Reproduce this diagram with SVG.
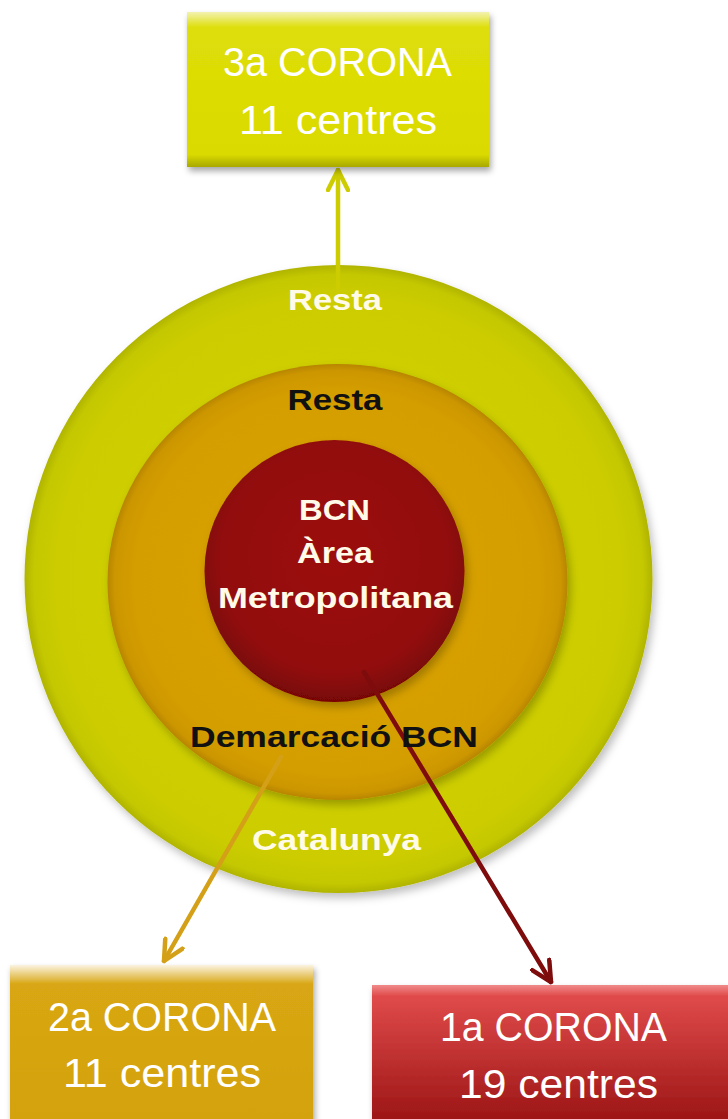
<svg xmlns="http://www.w3.org/2000/svg" width="728" height="1119" viewBox="0 0 728 1119">
<defs>
<style>
.bt{font-family:"Liberation Sans",Arial,sans-serif;font-size:41px;fill:#ffffff;text-anchor:middle}
.ct{font-family:"Liberation Sans",Arial,sans-serif;font-size:30px;font-weight:bold;text-anchor:middle}
.w{fill:#fffbe8}
.k{fill:#111111}
.ln{fill:none;stroke-width:4.5;stroke-linecap:round}
</style>
<filter id="sh" x="-10%" y="-10%" width="125%" height="125%">
<feDropShadow dx="2" dy="4" stdDeviation="3" flood-color="#000" flood-opacity="0.35"/>
</filter>
<filter id="csh" x="-10%" y="-10%" width="125%" height="125%">
<feDropShadow dx="3" dy="5" stdDeviation="4" flood-color="#000" flood-opacity="0.25"/>
</filter>
<radialGradient id="gOuter" cx="0.5" cy="0.5" r="0.5">
<stop offset="0" stop-color="#d4d400"/>
<stop offset="0.9" stop-color="#cccc00"/>
<stop offset="0.97" stop-color="#c4c800"/>
<stop offset="1" stop-color="#b0b400"/>
</radialGradient>
<radialGradient id="gMid" cx="0.5" cy="0.5" r="0.5">
<stop offset="0" stop-color="#dca400"/>
<stop offset="0.88" stop-color="#d49e00"/>
<stop offset="0.97" stop-color="#cc9600"/>
<stop offset="1" stop-color="#b88500"/>
</radialGradient>
<radialGradient id="gIn" cx="0.5" cy="0.45" r="0.55">
<stop offset="0" stop-color="#9c0e0e"/>
<stop offset="0.8" stop-color="#920c0c"/>
<stop offset="1" stop-color="#780606"/>
</radialGradient>
<linearGradient id="gY" x1="0" y1="0" x2="0" y2="1">
<stop offset="0" stop-color="#f2f2b0"/>
<stop offset="0.1" stop-color="#dede08"/>
<stop offset="0.92" stop-color="#dada02"/>
<stop offset="1" stop-color="#a8a800"/>
</linearGradient>
<linearGradient id="gO" x1="0" y1="0" x2="0" y2="1">
<stop offset="0" stop-color="#fbf3e0"/>
<stop offset="0.12" stop-color="#d8a612"/>
<stop offset="1" stop-color="#d4a20e"/>
</linearGradient>
<linearGradient id="gR" x1="0" y1="0" x2="0" y2="1">
<stop offset="0" stop-color="#f08a8a"/>
<stop offset="0.08" stop-color="#e04a4a"/>
<stop offset="1" stop-color="#9a1414"/>
</linearGradient>
<marker id="aY" viewBox="0 0 24 24" refX="22" refY="12" markerWidth="24" markerHeight="24" markerUnits="userSpaceOnUse" orient="auto">
<path d="M2,2 L22,12 L2,22" fill="none" stroke="#cccc00" stroke-width="4.5" stroke-linecap="round" stroke-linejoin="round"/>
</marker>
<marker id="aO" viewBox="0 0 24 24" refX="22" refY="12" markerWidth="24" markerHeight="24" markerUnits="userSpaceOnUse" orient="auto">
<path d="M2,2 L22,12 L2,22" fill="none" stroke="#d4a017" stroke-width="4.5" stroke-linecap="round" stroke-linejoin="round"/>
</marker>
<marker id="aR" viewBox="0 0 24 24" refX="22" refY="12" markerWidth="24" markerHeight="24" markerUnits="userSpaceOnUse" orient="auto">
<path d="M2,2 L22,12 L2,22" fill="none" stroke="#7e0c0c" stroke-width="4.5" stroke-linecap="round" stroke-linejoin="round"/>
</marker>
</defs>
<rect width="728" height="1119" fill="#ffffff"/>

<g id="rings">
<circle cx="338.5" cy="579" r="314" fill="url(#gOuter)" filter="url(#csh)"/>
<ellipse cx="337.5" cy="582" rx="230" ry="218" fill="url(#gMid)" filter="url(#csh)"/>
<ellipse cx="334.5" cy="571" rx="130" ry="131" fill="url(#gIn)" filter="url(#csh)"/>
</g>

<g id="connectors">
<line class="ln" x1="338" y1="300" x2="338" y2="170" stroke="#cccc00" marker-end="url(#aY)"/>
<line class="ln" x1="281" y1="757" x2="164" y2="961" stroke="#d4a017" marker-end="url(#aO)"/>
<line class="ln" x1="364" y1="672" x2="551" y2="982" stroke="#7e0c0c" marker-end="url(#aR)"/>
</g>

<g id="ring-labels">
<text class="ct w" x="335" y="310" textLength="94" lengthAdjust="spacingAndGlyphs">Resta</text>
<text class="ct k" x="335" y="410" textLength="95" lengthAdjust="spacingAndGlyphs">Resta</text>
<text class="ct w" x="334.5" y="520" textLength="71" lengthAdjust="spacingAndGlyphs">BCN</text>
<text class="ct w" x="335" y="563" textLength="76" lengthAdjust="spacingAndGlyphs">Àrea</text>
<text class="ct w" x="335.5" y="608" textLength="235" lengthAdjust="spacingAndGlyphs">Metropolitana</text>
<text class="ct k" x="334" y="747" textLength="288" lengthAdjust="spacingAndGlyphs">Demarcació BCN</text>
<text class="ct w" x="336.5" y="850" textLength="169" lengthAdjust="spacingAndGlyphs">Catalunya</text>
</g>

<g id="box3">
<rect x="187" y="12" width="302" height="155" fill="url(#gY)" filter="url(#sh)"/>
<text class="bt" x="337.5" y="76" textLength="229" lengthAdjust="spacingAndGlyphs">3a CORONA</text>
<text class="bt" x="338" y="134" textLength="198" lengthAdjust="spacingAndGlyphs">11 centres</text>
</g>

<g id="box2">
<rect x="10" y="965" width="303" height="160" fill="url(#gO)" filter="url(#sh)"/>
<text class="bt" x="162" y="1031" textLength="228" lengthAdjust="spacingAndGlyphs">2a CORONA</text>
<text class="bt" x="162" y="1087" textLength="198" lengthAdjust="spacingAndGlyphs">11 centres</text>
</g>

<g id="box1">
<rect x="372" y="985" width="362" height="140" fill="url(#gR)" filter="url(#sh)"/>
<text class="bt" x="553.5" y="1041" textLength="227" lengthAdjust="spacingAndGlyphs">1a CORONA</text>
<text class="bt" x="558.5" y="1098" textLength="199" lengthAdjust="spacingAndGlyphs">19 centres</text>
</g>
</svg>
